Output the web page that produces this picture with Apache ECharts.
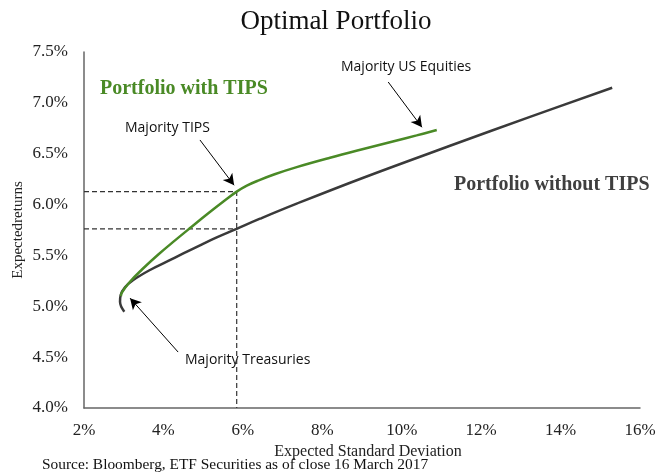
<!DOCTYPE html>
<html><head><meta charset="utf-8">
<script src="https://cdn.jsdelivr.net/npm/echarts@6/dist/echarts.min.js"></script>
<style>html,body{margin:0;padding:0;background:#fff}#c{width:672px;height:474px}</style>
</head><body><div id="c"></div>
<script>
// Data (x = expected standard deviation %, y = expected return %)
var withoutTipsX = [3.015, 2.907, 2.924, 3.032, 3.241, 3.662, 4.083, 4.501, 4.921, 5.342, 5.845, 6.432, 7.356, 9.033, 11.217, 13.23, 15.30];
var withoutTipsY = [4.947, 5.045, 5.111, 5.187, 5.258, 5.357, 5.438, 5.520, 5.600, 5.677, 5.762, 5.861, 6.009, 6.264, 6.578, 6.862, 7.148];
var withTipsX = [2.93, 2.949, 3.158, 3.453, 3.871, 4.292, 4.712, 5.130, 5.551, 5.845, 6.1, 6.4, 6.8, 7.356, 8.195, 9.033, 9.875, 10.375, 10.882];
var withTipsY = [5.10, 5.132, 5.241, 5.359, 5.509, 5.648, 5.782, 5.914, 6.042, 6.127, 6.186, 6.238, 6.298, 6.368, 6.460, 6.546, 6.630, 6.680, 6.733];
var refX = 5.845, refYWith = 6.127, refYWithout = 5.762;
var xTicks = [2, 4, 6, 8, 10, 12, 14, 16];
var yTicks = [4.0, 4.5, 5.0, 5.5, 6.0, 6.5, 7.0, 7.5];
// annotation arrows: [fromX, fromY, toX, toY]
var arrowTips = [4.92, 6.635, 5.78, 6.19];
var arrowEq = [9.66, 7.205, 10.51, 6.76];
var arrowTreas = [4.37, 4.55, 3.16, 5.08];

function zip(a, b) { return a.map(function (v, i) { return [v, b[i]]; }); }
function arrow(a) { return [{ coord: [a[0], a[1]] }, { coord: [a[2], a[3]] }]; }

var serif = '"Liberation Serif", "DejaVu Serif", serif';
var sans = '"Open Sans", "Liberation Sans", sans-serif';
var chart = echarts.init(document.getElementById('c'));
chart.setOption({
  animation: false,
  backgroundColor: '#fff',
  title: { text: 'Optimal Portfolio', left: 'center', top: 3,
    textStyle: { fontFamily: serif, fontSize: 27, fontWeight: 'normal', color: '#111' } },
  grid: { left: 84, right: 32, top: 52, bottom: 66 },
  xAxis: { type: 'value', min: xTicks[0], max: xTicks[xTicks.length - 1], interval: 2,
    name: 'Expected Standard Deviation', nameLocation: 'middle', nameGap: 35,
    nameTextStyle: { fontFamily: serif, fontSize: 16, color: '#222', padding: [0, 0, 0, 12] },
    axisLine: { lineStyle: { color: '#666', width: 1.5 } }, axisTick: { show: false },
    splitLine: { show: false },
    axisLabel: { formatter: function (v) { return v + '%'; }, fontFamily: serif, fontSize: 17, color: '#222', margin: 14 } },
  yAxis: { type: 'value', min: yTicks[0], max: yTicks[yTicks.length - 1], interval: 0.5,
    name: 'Expectedreturns', nameLocation: 'middle', nameGap: 58, nameMoveOverlap: false,
    nameTextStyle: { fontFamily: serif, fontSize: 15, color: '#222' },
    axisLine: { show: true, lineStyle: { color: '#666', width: 1.5 } }, axisTick: { show: false },
    splitLine: { show: false },
    axisLabel: { formatter: function (v) { return v.toFixed(1) + '%'; }, fontFamily: serif, fontSize: 17, color: '#222', margin: 16 } },
  series: [
    { type: 'line', data: zip(withoutTipsX, withoutTipsY), smooth: 0.4, showSymbol: false,
      lineStyle: { color: '#3a3a3a', width: 2.5 }, z: 3 },
    { type: 'line', data: zip(withTipsX, withTipsY), smooth: 0.4, showSymbol: false,
      lineStyle: { color: '#4a8a26', width: 2.5 }, z: 4 },
    { type: 'line', data: [[xTicks[0], refYWith], [refX, refYWith], [refX, yTicks[0]]], showSymbol: false,
      lineStyle: { color: '#333', width: 1.2, type: [5, 3] }, z: 2 },
    { type: 'line', data: [[xTicks[0], refYWithout], [refX, refYWithout]], showSymbol: false,
      lineStyle: { color: '#333', width: 1.2, type: [5, 3] }, z: 2 },
    { type: 'line', data: [], markLine: { silent: true, symbol: ['none', 'arrow'], symbolSize: [9, 11],
      label: { show: false }, lineStyle: { color: '#000', width: 1, type: 'solid' },
      data: [arrow(arrowTips), arrow(arrowEq), arrow(arrowTreas)] } }
  ],
  graphic: [
    { type: 'text', left: 100, top: 79, style: { text: 'Portfolio with TIPS', font: 'bold 20px ' + serif, fill: '#4a8a26' } },
    { type: 'text', left: 454, top: 175, style: { text: 'Portfolio without TIPS', font: 'bold 20px ' + serif, fill: '#3f3f3f' } },
    { type: 'text', left: 125, top: 121, style: { text: 'Majority TIPS', font: '14px ' + sans, fill: '#111' } },
    { type: 'text', left: 341, top: 60, style: { text: 'Majority US Equities', font: '14px ' + sans, fill: '#111' } },
    { type: 'text', left: 185, top: 353, style: { text: 'Majority Treasuries', font: '14px ' + sans, fill: '#111' } },
    { type: 'text', left: 42, top: 457, style: { text: 'Source: Bloomberg, ETF Securities as of close 16 March 2017', font: '15.4px ' + serif, fill: '#111' } }
  ]
});
</script></body></html>
